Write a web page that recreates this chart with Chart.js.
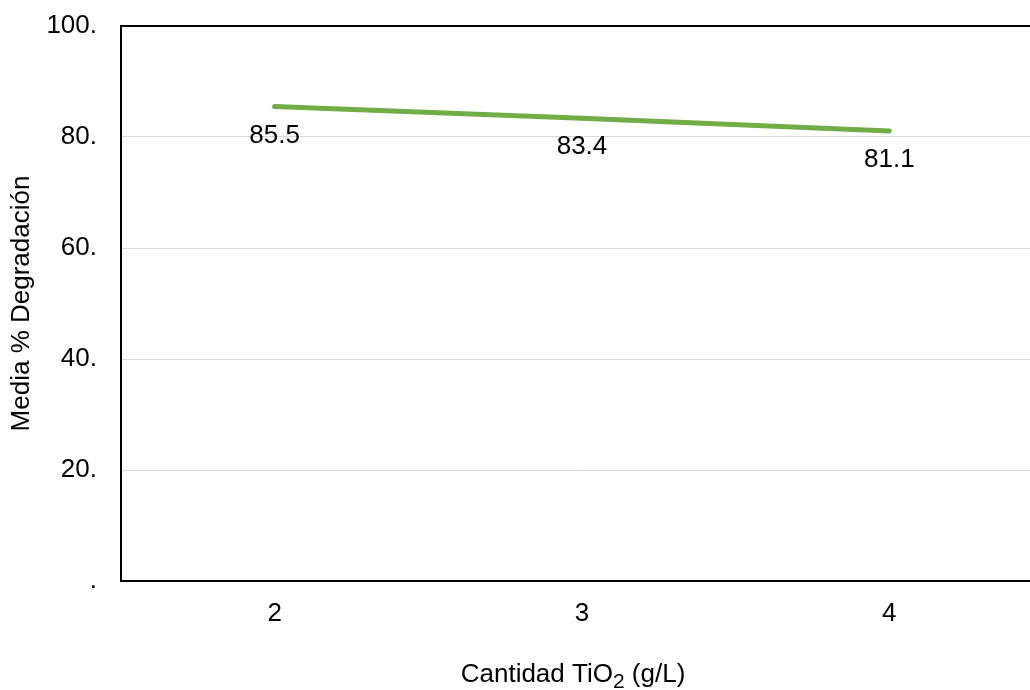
<!DOCTYPE html>
<html>
<head>
<meta charset="utf-8">
<script src="https://cdn.jsdelivr.net/npm/chart.js@4.4.1/dist/chart.umd.min.js"></script>
<style>
  html, body { margin: 0; padding: 0; background: #fff; overflow: hidden; }
  /* plot runs a bit past the right edge of the window, as in the source */
  .wrap { width: 1043px; height: 690px; }
</style>
</head>
<body>
<div class="wrap"><canvas id="chart"></canvas></div>
<script>
  // TiO2 dose vs mean degradation
  const doses = ['2', '3', '4'];
  const meanDegradation = [85.5, 83.4, 81.1];
  const yTicks = [0, 20, 40, 60, 80, 100];

  const FONT = 'Liberation Sans, Arial, sans-serif';
  const SIZE = 26;

  // Values drawn under each point, like the Excel data labels.
  const pointLabels = {
    id: 'pointLabels',
    afterDatasetsDraw(chart) {
      const { ctx } = chart;
      const meta = chart.getDatasetMeta(0);
      ctx.save();
      ctx.font = `${SIZE}px ${FONT}`;
      ctx.fillStyle = '#000';
      ctx.textAlign = 'center';
      ctx.textBaseline = 'middle';
      meta.data.forEach((pt, i) => {
        ctx.fillText(meanDegradation[i].toFixed(1), pt.x, pt.y + 29);
      });
      ctx.restore();
    },
  };

  // X title needs a real subscript 2, so it is drawn here instead of title:{}.
  const xTitle = {
    id: 'xTitle',
    afterDraw(chart) {
      const { ctx } = chart;
      const parts = [
        { t: 'Cantidad TiO', size: SIZE, dy: 0 },
        { t: '2', size: 21, dy: 6 },
        { t: ' (g/L)', size: SIZE, dy: 0 },
      ];
      ctx.save();
      ctx.fillStyle = '#000';
      ctx.textBaseline = 'alphabetic';
      let total = 0;
      for (const p of parts) {
        ctx.font = `${p.size}px ${FONT}`;
        p.w = ctx.measureText(p.t).width;
        total += p.w;
      }
      const cx = (chart.chartArea.left + chart.chartArea.right) / 2 - 9;
      let x = cx - total / 2;
      const base = 682;
      for (const p of parts) {
        ctx.font = `${p.size}px ${FONT}`;
        ctx.fillText(p.t, x, base + p.dy);
        x += p.w;
      }
      ctx.restore();
    },
  };

  new Chart(document.getElementById('chart'), {
    type: 'line',
    data: {
      labels: doses,
      datasets: [{
        data: meanDegradation,
        borderColor: '#70ad47',
        borderWidth: 5,
        borderCapStyle: 'round',
        pointRadius: 0,
        tension: 0,
        fill: false,
      }],
    },
    options: {
      responsive: true,
      maintainAspectRatio: false,
      animation: false,
      layout: { padding: { top: 26, left: 0, right: 0, bottom: 0 } },
      plugins: { legend: { display: false }, tooltip: { enabled: false } },
      scales: {
        x: {
          offset: true,
          grid: { display: false, drawTicks: false },
          border: { color: '#000', width: 2 },
          ticks: { color: '#000', font: { family: FONT, size: SIZE }, padding: 17 },
          afterFit(scale) { scale.height = 109; },
        },
        y: {
          min: 0,
          max: 100,
          afterBuildTicks(scale) { scale.ticks = yTicks.map(v => ({ value: v })); },
          grid: {
            drawTicks: false,
            color: c => (c.tick && c.tick.value === 100 ? '#000' : '#d9d9d9'),
            lineWidth: c => (c.tick && c.tick.value === 100 ? 2 : 1),
          },
          border: { color: '#000', width: 2 },
          ticks: {
            color: '#000',
            font: { family: FONT, size: SIZE },
            padding: 24,
            callback: v => (v === 0 ? '.' : v + '.'),
          },
          title: {
            display: true,
            text: 'Media % Degradación',
            color: '#000',
            font: { family: FONT, size: SIZE },
            padding: { top: 6, bottom: 0 },
          },
          afterFit(scale) {
            scale.width = 121;
            // tick padding would otherwise push the plot top down
            scale.paddingTop = 0;
            scale.paddingBottom = 0;
          },
        },
      },
    },
    plugins: [pointLabels, xTitle],
  });
</script>
</body>
</html>
